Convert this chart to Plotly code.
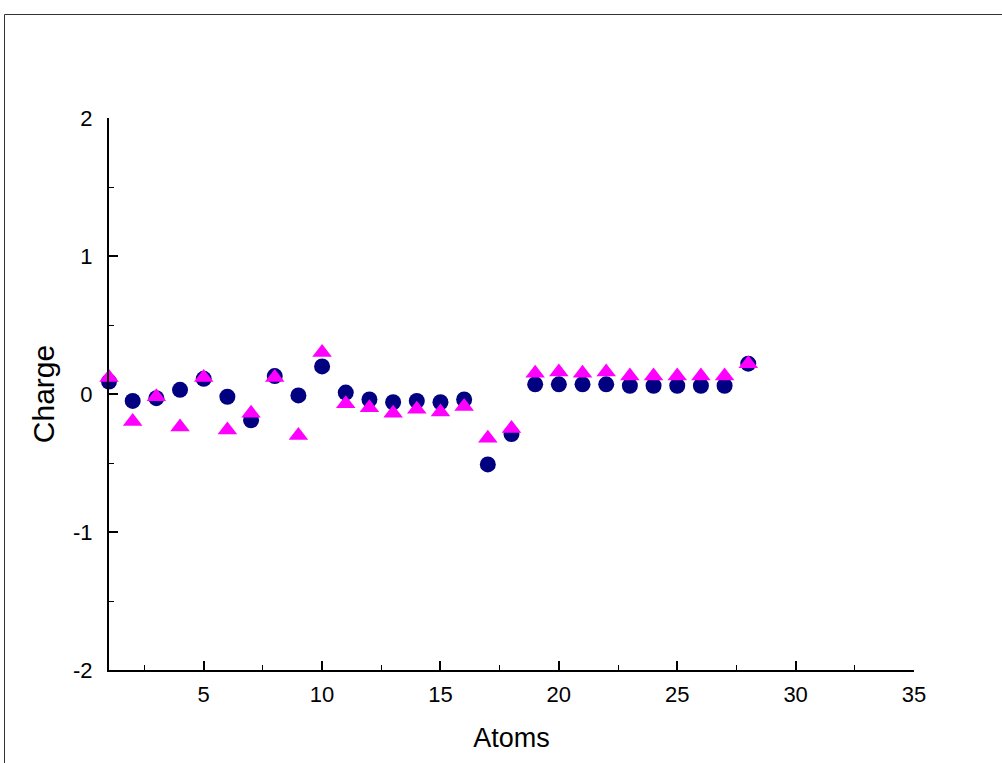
import plotly.graph_objects as go

atoms = list(range(1, 29))
charge_circle = [0.09, -0.05, -0.03, 0.03, 0.11, -0.02, -0.19, 0.13, -0.01, 0.20,
                 0.01, -0.04, -0.06, -0.05, -0.06, -0.04, -0.51, -0.29, 0.07, 0.07,
                 0.07, 0.07, 0.06, 0.06, 0.06, 0.06, 0.06, 0.22]
charge_triangle = [0.12, -0.20, -0.02, -0.24, 0.12, -0.26, -0.14, 0.12, -0.30, 0.30,
                   -0.07, -0.10, -0.14, -0.11, -0.13, -0.09, -0.32, -0.25, 0.15, 0.16,
                   0.15, 0.16, 0.13, 0.13, 0.13, 0.13, 0.13, 0.22]
y_tickvals = [-2, -1, 0, 1, 2]
y_ticktext = ["-2", "-1", "0", "1", "2"]

fig = go.Figure()
fig.add_trace(go.Scatter(x=atoms, y=charge_circle, mode="markers",
                         marker=dict(symbol="circle", size=16, color="#000080",
                                     line=dict(width=0)),
                         showlegend=False, cliponaxis=False))
fig.add_trace(go.Scatter(x=atoms, y=charge_triangle, mode="markers",
                         marker=dict(symbol="triangle-up", size=17, color="#ff00ff",
                                     line=dict(width=0)),
                         showlegend=False, cliponaxis=False))

W, H = 1002, 763
l, t, r, b = 109, 118, 88, 93
pw, ph = W - l - r, H - t - b

def px(x):
    return (x - l) / pw

def py(y):
    return (H - b - y) / ph

fig.add_shape(type="rect", xref="paper", yref="paper",
              x0=px(4.5), x1=px(1020), y0=py(14.5), y1=py(800),
              line=dict(color="#333333", width=1), fillcolor="rgba(0,0,0,0)", layer="below")

font = "Liberation Sans, Arial, sans-serif"
fig.update_layout(
    width=W, height=H,
    margin=dict(l=l, r=r, t=t, b=b),
    paper_bgcolor="white", plot_bgcolor="white",
    font=dict(family=font, size=22, color="black"),
    xaxis=dict(range=[1, 35], tickmode="linear", tick0=0, dtick=5,
               ticks="inside", ticklen=9, tickwidth=2, tickcolor="black",
               showline=True, linecolor="black", linewidth=2,
               showgrid=False, zeroline=False,
               minor=dict(ticks="inside", ticklen=5, tickwidth=1, tickcolor="black",
                          dtick=2.5, tick0=0, showgrid=False),
               ticklabelstandoff=4,
               title=dict(text="Atoms", font=dict(size=27), standoff=22),
               tickfont=dict(size=22)),
    yaxis=dict(range=[-2, 2], tickmode="array", tickvals=y_tickvals, ticktext=y_ticktext,
               ticks="inside", ticklen=9, tickwidth=2, tickcolor="black",
               showline=True, linecolor="black", linewidth=2,
               showgrid=False, zeroline=False,
               minor=dict(ticks="inside", ticklen=5, tickwidth=1, tickcolor="black",
                          dtick=0.5, tick0=0, showgrid=False),
               ticklabelstandoff=10,
               title=dict(text="Charge", font=dict(size=30), standoff=10),
               tickfont=dict(size=22)),
)

fig.write_html("out.html",
               config={"displayModeBar": False},
               post_script="document.body.style.margin='0';document.body.style.padding='0';")
